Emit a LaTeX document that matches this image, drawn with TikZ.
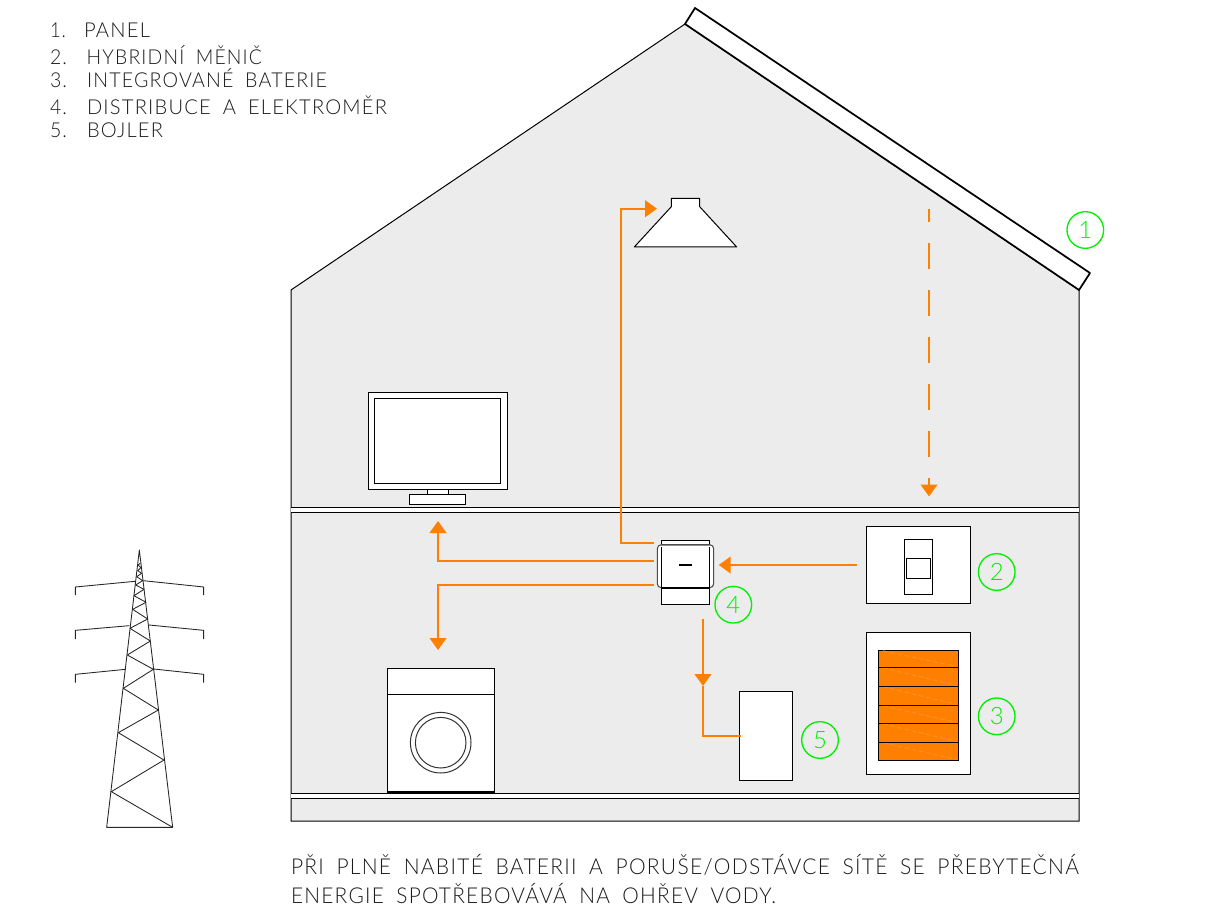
\documentclass[tikz,border=0pt]{standalone}
\usepackage{fontspec}
\usepackage{graphicx}
\usetikzlibrary{arrows.meta}
\setmainfont{Lato}[UprightFont=* Light,LetterSpace=6,WordSpace=1.8]
\definecolor{wallgrey}{HTML}{ECECEC}
\definecolor{flow}{HTML}{FF8000}
\definecolor{cellhatch}{HTML}{FF9238}
\definecolor{tag}{HTML}{00F000}
\definecolor{ink}{HTML}{1A1A1A}
\tikzset{
  box/.style={draw=black,fill=white,line width=1.05pt,inner sep=0pt,outer sep=0pt},
  heavy/.style={draw=black,line width=1.05pt},
  panelline/.style={draw=black,line width=1.3pt,line join=round},
  thinline/.style={draw=black,line width=0.75pt},
  pylon/.style={draw=black!85,line width=0.65pt,line join=round},
  flowline/.style={draw=flow,line width=1.6pt},
  flowtip/.style={flowline,-{Triangle[length=9pt,width=12.5pt]}},
  tagnode/.style={circle,draw=tag,line width=1pt,minimum size=27.5pt,inner sep=0pt,text=tag,font=\fontsize{18}{18}\selectfont},
  cadtext/.style={anchor=base west,inner sep=0pt,outer sep=0pt,text=ink},
}
\newcommand\rectnode[6][]{%
  \pgfmathsetmacro\rw{(#5-#3)*0.75}\pgfmathsetmacro\rh{(#6-#4)*0.75}%
  \node[box,minimum width=\rw pt,minimum height=\rh pt,#1] (#2) at ({(#3+#5)/2},{(#4+#6)/2}) {};}
\newcommand\legtext[5]{% name x y width text
  \pgfmathsetmacro\tw{#4*0.75}%
  \node[cadtext,font=\fontsize{15.4}{16}\selectfont] (#1) at (#2,#3) {\resizebox{\tw pt}{\height}{#5}};}
\newcommand\btmtext[5]{%
  \pgfmathsetmacro\tw{#4*0.75}%
  \node[cadtext,font=\fontsize{16.4}{17}\selectfont] (#1) at (#2,#3) {\resizebox{\tw pt}{\height}{#5}};}
\begin{document}
\begin{tikzpicture}[x=0.75pt,y=-0.75pt]
\useasboundingbox (0,0) rectangle (1212,912);
% house
\draw[fill=wallgrey,thinline] (291,290) -- (685,24) -- (1079,290) -- (1079,821) -- (291,821) -- cycle;
\draw[panelline,fill=white] (685,24) -- (695,8) -- (1090,273) -- (1079,290) -- cycle;
% floors
\fill[white] (291,507.3) rectangle (1079,512.3);
\fill[white] (291,793) rectangle (1079,798.3);
\draw[heavy] (291,507.3) -- (1079,507.3) (291,512.3) -- (1079,512.3);
\draw[thinline] (291,793) -- (1079,793) (291,798.3) -- (1079,798.3);
% television
\rectnode{tv}{368.3}{392.3}{507.7}{489.3}
\rectnode{tvscreen}{374.3}{398.3}{500.7}{483.3}
\rectnode{tvneck}{427.7}{489.3}{448.7}{494.3}
\rectnode{tvbase}{409.3}{494.3}{465.7}{504.7}
% washing machine
\rectnode{washer}{387.3}{668.3}{494.3}{793}
\draw[heavy] (washer.west |- 0,694.3) -- (washer.east |- 0,694.3);
\draw[thinline,draw=black!80] (440.7,742.7) circle[radius=30.3] (440.7,742.7) circle[radius=25.3];
\draw[black,line width=1.6pt] (387.3,792.3) -- (494.3,792.3);
% lamp
\draw[thinline,fill=white,line join=round] (634.3,247) -- (671.3,206.7) -- (671.3,198.3) -- (699.7,198.3) -- (699.7,206.7) -- (736.7,247) -- cycle;
\coordinate (lamp) at (657,208.7);
% hybrid inverter
\rectnode{inverter}{866.3}{526.3}{970.3}{603.3}
\rectnode{invbody}{904.3}{539.3}{932.7}{594.3}
\rectnode{invpanel}{906.3}{558.3}{930.7}{578.3}
% batteries
\rectnode{battery}{866.3}{632.3}{970.3}{774.3}
\rectnode[fill=flow]{cells}{878.3}{650.3}{958.3}{760.3}
\foreach \ya/\yb in {650.3/667.3,667.3/686.3,686.3/705.3,705.3/723.3,723.3/742.3,742.3/760.3}{
  \draw[cellhatch,line width=0.6pt,dash pattern=on 3.5pt off 2pt] (883,\ya+0.5) -- (956,\yb-1);
}
\foreach \yy in {667.3,686.3,705.3,723.3,742.3}{\draw[heavy] (878.3,\yy) -- (958.3,\yy);}
% boiler
\rectnode{boiler}{739.3}{691.3}{792.3}{780.3}
% distribution
\rectnode{meter}{661.3}{540.3}{709.7}{604.3}
\draw[draw=black!70,line width=0.8pt,fill=white,rounded corners=3pt] (657.3,544.7) rectangle (713.7,587.7);
\draw[heavy] (661.3,547) -- (661.3,587.7) (709.7,547) -- (709.7,587.7);
\draw[draw=black!45,line width=1.4pt] (661.3,545.5) -- (709.7,545.5);
\draw[black,line width=1.6pt] (661.3,587.7) -- (709.7,587.7);
\draw[black,line width=1.6pt] (679,564.7) -- (692,564.7);
% flows
\coordinate (pv) at (929,209);
\coordinate (pvend) at (929,496.5);
\draw[flowtip,dash pattern=on 19.5pt off 15.75pt,dash phase=10pt] (pv) -- (pvend);
\coordinate (invout) at (857,565);
\coordinate (meterin) at (718.7,565);
\draw[flowtip] (invout) -- (meterin);
\coordinate (m1) at (653.7,543);
\coordinate (m2) at (653.7,560.7);
\coordinate (m3) at (653.7,585);
\coordinate (m4) at (703,619);
\coordinate (tvin) at (438,521);
\coordinate (washin) at (438,650);
\coordinate (boilhead) at (703,686);
\draw[flowtip] (m1) -- (621,543) -- (621,208.7) -- (lamp);
\draw[flowtip] (m2) -- (tvin |- m2) -- (tvin);
\draw[flowtip] (m3) -- (washin |- m3) -- (washin);
\draw[flowtip] (m4) -- (boilhead);
\draw[flowline] (boilhead) -- (703,736) -- (741,736);
% tags
\node[tagnode] (tag1) at (1085.3,230) {1};
\node[tagnode] (tag2) at (996.7,572) {2};
\node[tagnode] (tag3) at (996.7,716.3) {3};
\node[tagnode] (tag4) at (733.3,604.7) {4};
\node[tagnode] (tag5) at (820,740) {5};
% pylon
\begin{scope}[shift={(60,540)},x=0.25pt,y=-0.25pt]
\draw[pylon] (140,862) -- (238,30) -- (338,862) -- cycle;
\draw[pylon] (338,862) -- (154,755) -- (312,660) -- (175,578) -- (295,510) -- (190,445) -- (280,388) -- (202,345) -- (271,303) -- (210,265) -- (263,237) -- (218,208) -- (258,187) -- (222,167) -- (252,148) -- (227,135) -- (248,122) -- (230,110) -- (245,100) -- (233,92) -- (243,83) -- (234,75) -- (241,70);
\draw[pylon] (250,122) -- (431,141) -- (431,165) (225,124) -- (46,141) -- (46,165);
\draw[pylon] (267,255) -- (431,271) -- (431,297) (208,257) -- (46,271) -- (46,297);
\draw[pylon] (281,387) -- (431,403) -- (431,428) (196,388) -- (46,403) -- (46,428);
\end{scope}
% legend
\legtext{n1}{50}{38}{16}{1.}
\legtext{n2}{50}{65}{17}{2.}
\legtext{n3}{50}{87.7}{17}{3.}
\legtext{n4}{50}{115}{17}{4.}
\legtext{n5}{50}{137.3}{17}{5.}
\legtext{l1}{84}{38}{66}{PANEL}
\legtext{l2}{86.7}{65}{175.3}{HYBRIDNÍ MĚNIČ}
\legtext{l3}{87}{87.7}{240}{INTEGROVANÉ BATERIE}
\legtext{l4}{87}{115}{300}{DISTRIBUCE A ELEKTROMĚR}
\legtext{l5}{87}{137.3}{76}{BOJLER}
% note
\btmtext{note1}{291}{874.3}{788}{PŘI PLNĚ NABITÉ BATERII A PORUŠE/ODSTÁVCE SÍTĚ SE PŘEBYTEČNÁ}
\btmtext{note2}{291}{903.3}{485}{ENERGIE SPOTŘEBOVÁVÁ NA OHŘEV VODY.}
\end{tikzpicture}
\end{document}
